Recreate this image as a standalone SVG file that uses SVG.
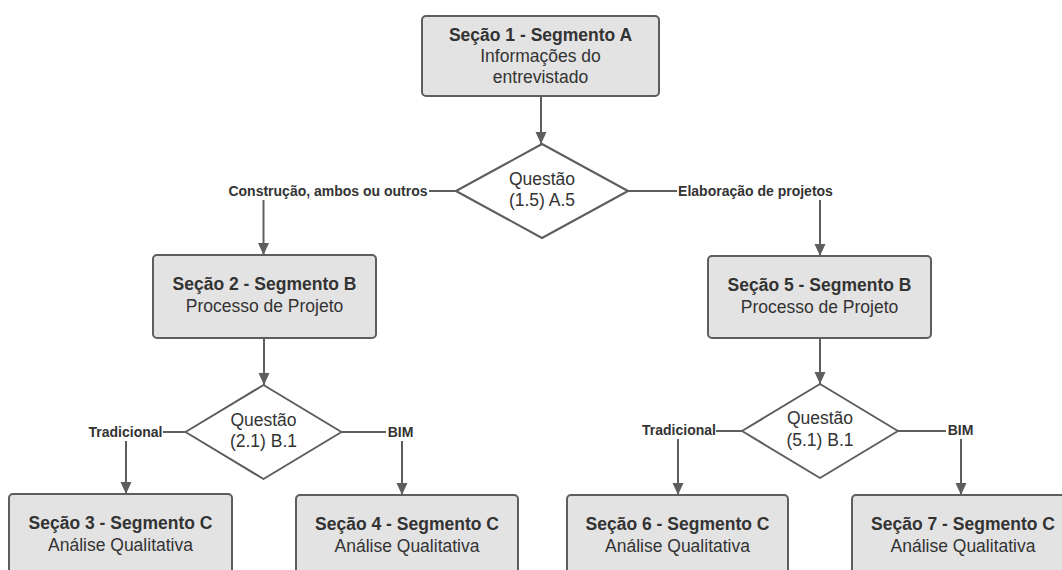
<svg xmlns="http://www.w3.org/2000/svg" width="1062" height="570" viewBox="0 0 1062 570">
<defs>
<marker id="arr" markerUnits="userSpaceOnUse" markerWidth="12" markerHeight="12" refX="12" refY="5.5" orient="auto">
<path d="M0,0 L12,5.5 L0,11 z" fill="#5e5e5e"/>
</marker>
<style>
.box{fill:#e3e3e3;stroke:#5e5e5e;stroke-width:2}
.dia{fill:#ffffff;stroke:#5e5e5e;stroke-width:2;stroke-linejoin:round}
.t{font-family:"Liberation Sans",Arial,sans-serif;font-size:17.5px;fill:#333333;text-anchor:middle}
.b{font-weight:bold}
.c{fill:none;stroke:#5e5e5e;stroke-width:2}
.lbl{font-family:"Liberation Sans",Arial,sans-serif;font-size:14px;font-weight:bold;fill:#333333;text-anchor:middle}
.bg{fill:#ffffff}
</style>
</defs>
<rect width="1062" height="570" fill="#ffffff"/>
<g id="connectors">
<path class="c" d="M541,96 V144" marker-end="url(#arr)"/>
<path class="c" d="M456,191 H263.5 V255" marker-end="url(#arr)"/>
<path class="c" d="M628,191 H820 V256" marker-end="url(#arr)"/>
<path class="c" d="M264,338 V385" marker-end="url(#arr)"/>
<path class="c" d="M820,338 V384" marker-end="url(#arr)"/>
<path class="c" d="M185.5,432 H126 V494" marker-end="url(#arr)"/>
<path class="c" d="M341.5,432 H402 V495" marker-end="url(#arr)"/>
<path class="c" d="M742,431 H678 V495" marker-end="url(#arr)"/>
<path class="c" d="M898,431 H961 V495" marker-end="url(#arr)"/>
<rect class="bg" x="227" y="181" width="202" height="19"/>
<text class="lbl" x="328" y="196">Construção, ambos ou outros</text>
<rect class="bg" x="677" y="181" width="157" height="19"/>
<text class="lbl" x="755.5" y="196">Elaboração de projetos</text>
<rect class="bg" x="88" y="422" width="75" height="19"/>
<text class="lbl" x="125.5" y="437">Tradicional</text>
<rect class="bg" x="386" y="422" width="30" height="19"/>
<text class="lbl" x="400.5" y="437">BIM</text>
<rect class="bg" x="642" y="421" width="74" height="18"/>
<text class="lbl" x="679" y="435">Tradicional</text>
<rect class="bg" x="946" y="421" width="29" height="18"/>
<text class="lbl" x="960.5" y="435">BIM</text>
</g>
<g id="n1">
<rect class="box" x="422" y="16" width="237" height="80" rx="4"/>
<text class="t b" x="540.5" y="40.5">Seção 1 - Segmento A</text>
<text class="t" x="540.5" y="62">Informações do</text>
<text class="t" x="540.5" y="83">entrevistado</text>
</g>
<g id="q1">
<polygon class="dia" points="542,144 628,191 542,238 456,191"/>
<text class="t" x="542" y="184.5">Questão</text>
<text class="t" x="542" y="205.5">(1.5) A.5</text>
</g>
<g id="n2">
<rect class="box" x="153" y="255" width="223" height="83" rx="4"/>
<text class="t b" x="264.5" y="289.5">Seção 2 - Segmento B</text>
<text class="t" x="264.5" y="311.5">Processo de Projeto</text>
</g>
<g id="n5">
<rect class="box" x="708" y="256" width="223" height="82" rx="4"/>
<text class="t b" x="819.5" y="290.5">Seção 5 - Segmento B</text>
<text class="t" x="819.5" y="312.5">Processo de Projeto</text>
</g>
<g id="q2">
<polygon class="dia" points="263.5,385 341.5,432 263.5,479 185.5,432"/>
<text class="t" x="263.5" y="425.5">Questão</text>
<text class="t" x="263.5" y="446.5">(2.1) B.1</text>
</g>
<g id="q3">
<polygon class="dia" points="820,384 898,431 820,478 742,431"/>
<text class="t" x="820" y="423.5">Questão</text>
<text class="t" x="820" y="445.5">(5.1) B.1</text>
</g>
<g id="n3">
<rect class="box" x="9" y="494" width="223" height="84" rx="4"/>
<text class="t b" x="120.5" y="528.5">Seção 3 - Segmento C</text>
<text class="t" x="120.5" y="550.5">Análise Qualitativa</text>
</g>
<g id="n4">
<rect class="box" x="296" y="495" width="222" height="84" rx="4"/>
<text class="t b" x="407" y="529.5">Seção 4 - Segmento C</text>
<text class="t" x="407" y="551.5">Análise Qualitativa</text>
</g>
<g id="n6">
<rect class="box" x="567" y="495" width="221" height="84" rx="4"/>
<text class="t b" x="677.5" y="529.5">Seção 6 - Segmento C</text>
<text class="t" x="677.5" y="551.5">Análise Qualitativa</text>
</g>
<g id="n7">
<rect class="box" x="852" y="495" width="222" height="84" rx="4"/>
<text class="t b" x="963" y="529.5">Seção 7 - Segmento C</text>
<text class="t" x="963" y="551.5">Análise Qualitativa</text>
</g>
</svg>
